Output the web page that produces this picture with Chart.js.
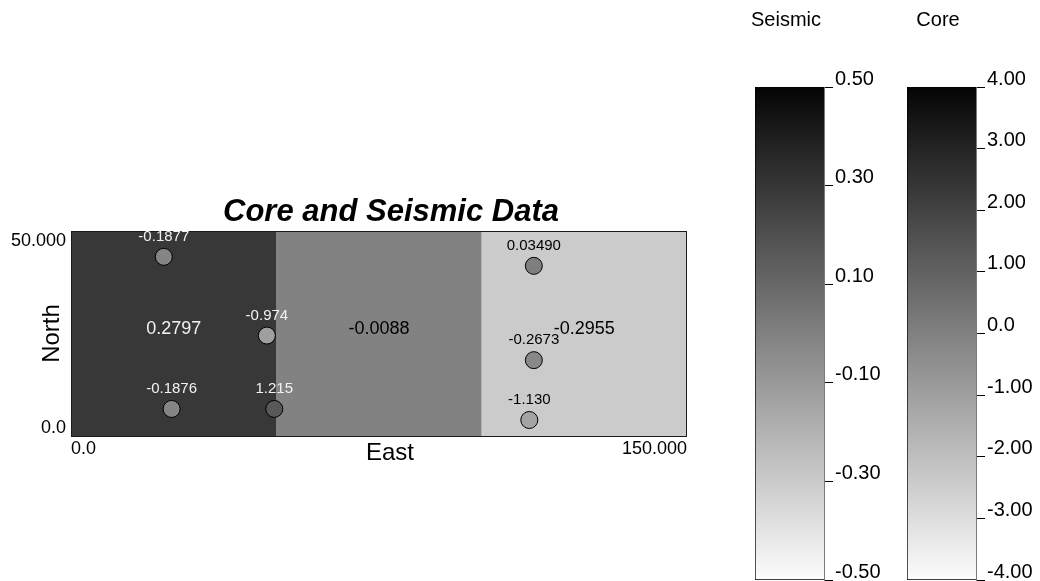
<!DOCTYPE html>
<html>
<head>
<meta charset="utf-8">
<title>Core and Seismic Data</title>
<script src="https://cdn.jsdelivr.net/npm/chart.js@4/dist/chart.umd.min.js"></script>
<style>
  html, body { margin: 0; padding: 0; background: #fff; overflow: hidden; }
  body { width: 1040px; height: 581px; position: relative; }
  canvas { position: absolute; top: 0; }
  #mapChart { left: 0; }
  #seismicBar { left: 740px; }
  #coreBar { left: 890px; }
</style>
</head>
<body>
<canvas id="mapChart" width="782" height="581"></canvas>
<canvas id="seismicBar" width="150" height="581"></canvas>
<canvas id="coreBar" width="150" height="581"></canvas>
<script>
// ---- data ----
const eastRange = [0, 150];
const northRange = [0, 50];
const eastTickLabels = ['0.0', '150.000'];
const northTickLabels = ['0.0', '50.000'];

// seismic zones along East
const zoneStart = [0, 50, 100];
const zoneEnd = [50, 100, 150];
const zoneSeismic = [0.2797, -0.0088, -0.2955];
const zoneLabels = ['0.2797', '-0.0088', '-0.2955'];

// core samples
const coreEast = [22.6, 47.7, 24.5, 49.5, 112.7, 112.7, 111.6];
const coreNorth = [43.7, 24.5, 6.6, 6.6, 41.5, 18.5, 3.9];
const coreValues = [-0.1877, -0.974, -0.1876, 1.215, 0.0349, -0.2673, -1.130];
const coreLabels = ['-0.1877', '-0.974', '-0.1876', '1.215', '0.03490', '-0.2673', '-1.130'];

// colour scales
const seismicRange = [-0.5, 0.5];
const seismicTicks = [0.5, 0.3, 0.1, -0.1, -0.3, -0.5];
const seismicTickLabels = ['0.50', '0.30', '0.10', '-0.10', '-0.30', '-0.50'];
const coreRange = [-4, 4];
const coreTicks = [4, 3, 2, 1, 0, -1, -2, -3, -4];
const coreTickLabels = ['4.00', '3.00', '2.00', '1.00', '0.0', '-1.00', '-2.00', '-3.00', '-4.00'];

// ---- helpers ----
const FONT = '"Liberation Sans", Arial, Helvetica, sans-serif';

function grayLevel(v, range) {
  const f = Math.min(1, Math.max(0, (v - range[0]) / (range[1] - range[0])));
  return Math.round(255 * (1 - f));
}
function grayColor(v, range) {
  const g = grayLevel(v, range);
  return 'rgb(' + g + ',' + g + ',' + g + ')';
}
function zoneIndexAt(east) {
  for (let i = 0; i < zoneStart.length; i++) {
    if (east >= zoneStart[i] && east < zoneEnd[i]) return i;
  }
  return zoneStart.length - 1;
}
function textOn(v) {
  return grayLevel(v, seismicRange) < 110 ? '#f2f2f2' : '#000';
}

// ---- map chart ----
const mapText = {
  id: 'mapText',
  afterDraw(chart) {
    const c = chart.ctx;
    const a = chart.chartArea;
    const xs = chart.scales.x;
    const ys = chart.scales.y;
    c.save();

    // frame
    c.strokeStyle = '#1a1a1a';
    c.lineWidth = 1;
    c.strokeRect(Math.round(a.left) + 0.5, Math.round(a.top) + 0.5,
                 Math.round(a.right - a.left) - 1, Math.round(a.bottom - a.top));

    // zone values
    c.font = '18px ' + FONT;
    c.textAlign = 'center';
    c.textBaseline = 'alphabetic';
    const midNorth = (northRange[0] + northRange[1]) / 2;
    zoneSeismic.forEach((v, i) => {
      c.fillStyle = textOn(v);
      c.fillText(zoneLabels[i], xs.getPixelForValue((zoneStart[i] + zoneEnd[i]) / 2),
                 ys.getPixelForValue(midNorth));
    });

    // core sample values
    c.font = '15px ' + FONT;
    coreValues.forEach((v, i) => {
      c.fillStyle = textOn(zoneSeismic[zoneIndexAt(coreEast[i])]);
      c.fillText(coreLabels[i], xs.getPixelForValue(coreEast[i]),
                 ys.getPixelForValue(coreNorth[i]) - 16);
    });

    // North tick labels, kept inside the frame height
    c.fillStyle = '#000';
    c.font = '18px ' + FONT;
    c.textAlign = 'right';
    c.textBaseline = 'top';
    c.fillText(northTickLabels[1], a.left - 5, ys.getPixelForValue(northRange[1]) + 1);
    c.textBaseline = 'bottom';
    c.fillText(northTickLabels[0], a.left - 5, ys.getPixelForValue(northRange[0]) + 1);

    // axis titles
    c.font = '24px ' + FONT;
    c.textAlign = 'center';
    c.textBaseline = 'middle';
    c.fillText('East', (a.left + a.right) / 2 + 11, a.bottom + 17);
    c.save();
    c.translate(a.left - 18.5, (a.top + a.bottom) / 2);
    c.rotate(-Math.PI / 2);
    c.fillText('North', 0, 0);
    c.restore();

    // chart title
    c.font = 'italic bold 31px ' + FONT;
    c.fillText('Core and Seismic Data', (a.left + a.right) / 2 + 12, a.top - 19);
    c.restore();
  }
};

new Chart(document.getElementById('mapChart'), {
  type: 'scatter',
  data: {
    datasets: [
      {
        type: 'scatter',
        label: 'Core',
        order: 0,
        data: coreEast.map((x, i) => ({ x: x, y: coreNorth[i] })),
        pointRadius: 8.5,
        pointHoverRadius: 8.5,
        pointBackgroundColor: coreValues.map(v => grayColor(v, coreRange)),
        pointBorderColor: '#000',
        pointBorderWidth: 1,
        showLine: false
      },
      {
        type: 'bar',
        label: 'Seismic',
        order: 1,
        data: zoneStart.map((s, i) => ({ x: (s + zoneEnd[i]) / 2, y: [northRange[0], northRange[1]] })),
        backgroundColor: zoneSeismic.map(v => grayColor(v, seismicRange)),
        borderWidth: 0,
        barPercentage: 1,
        categoryPercentage: 1
      }
    ]
  },
  options: {
    responsive: false,
    animation: false,
    events: [],
    layout: { padding: { left: 0, top: 231, right: 95, bottom: 105 } },
    plugins: {
      legend: { display: false },
      tooltip: { enabled: false },
      title: { display: false }
    },
    scales: {
      x: {
        type: 'linear',
        min: eastRange[0],
        max: eastRange[1],
        offset: false,
        grid: { display: false, drawTicks: false, offset: false },
        border: { display: false },
        afterBuildTicks: s => { s.ticks = eastRange.map(v => ({ value: v })); },
        afterFit: s => { s.height = 40; },
        ticks: {
          align: 'inner',
          autoSkip: false,
          maxRotation: 0,
          padding: 2,
          color: '#000',
          font: { family: FONT, size: 18 },
          callback: (v, i) => eastTickLabels[i]
        }
      },
      y: {
        type: 'linear',
        min: northRange[0],
        max: northRange[1],
        grid: { display: false, drawTicks: false },
        border: { display: false },
        ticks: { display: false },
        afterFit: s => { s.width = 71; }
      }
    }
  },
  plugins: [mapText]
});

// ---- colour bars ----
const barCaption = {
  id: 'barCaption',
  afterDraw(chart, args, opts) {
    const c = chart.ctx;
    const a = chart.chartArea;
    c.save();
    c.fillStyle = '#000';
    c.font = '20px ' + FONT;
    c.textAlign = 'center';
    c.textBaseline = 'middle';
    c.fillText(opts.text, (a.left + a.right) / 2 - 3.5, 20);
    c.restore();
  }
};

function colourBar(id, caption, range, ticks, tickLabels, padLeft, axisWidth) {
  return new Chart(document.getElementById(id), {
    type: 'bar',
    data: {
      labels: [caption],
      datasets: [{
        data: [[range[0], range[1]]],
        backgroundColor: ctx => {
          const ch = ctx.chart;
          const ys = ch.scales.y;
          if (!ch.chartArea || !ys) return '#888';
          const g = ch.ctx.createLinearGradient(0, ys.getPixelForValue(range[1]), 0, ys.getPixelForValue(range[0]));
          g.addColorStop(0, '#050505');
          g.addColorStop(1, '#fcfcfc');
          return g;
        },
        borderColor: '#000',
        borderWidth: { left: 1, top: 1, bottom: 1, right: 0 },
        borderSkipped: false,
        barPercentage: 1,
        categoryPercentage: 1
      }]
    },
    options: {
      responsive: false,
      animation: false,
      events: [],
      layout: { padding: { left: padLeft, top: 87, right: 0, bottom: 1 } },
      plugins: {
        legend: { display: false },
        tooltip: { enabled: false },
        barCaption: { text: caption }
      },
      scales: {
        x: { display: false },
        y: {
          position: 'right',
          min: range[0],
          max: range[1],
          afterBuildTicks: s => { s.ticks = ticks.map(v => ({ value: v })); },
          afterFit: s => { s.width = axisWidth; s.paddingTop = 0; s.paddingBottom = 0; },
          grid: { drawOnChartArea: false, drawTicks: true, tickLength: 9, color: '#000', lineWidth: 1 },
          border: { display: true, color: '#7a7a7a', width: 1 },
          ticks: {
            autoSkip: false,
            padding: 2,
            labelOffset: -8,
            color: '#000',
            font: { family: FONT, size: 20 },
            callback: (v, i) => tickLabels[i]
          }
        }
      }
    },
    plugins: [barCaption]
  });
}

colourBar('seismicBar', 'Seismic', seismicRange, seismicTicks, seismicTickLabels, 15, 66);
colourBar('coreBar', 'Core', coreRange, coreTicks, coreTickLabels, 17, 64);
</script>
</body>
</html>
